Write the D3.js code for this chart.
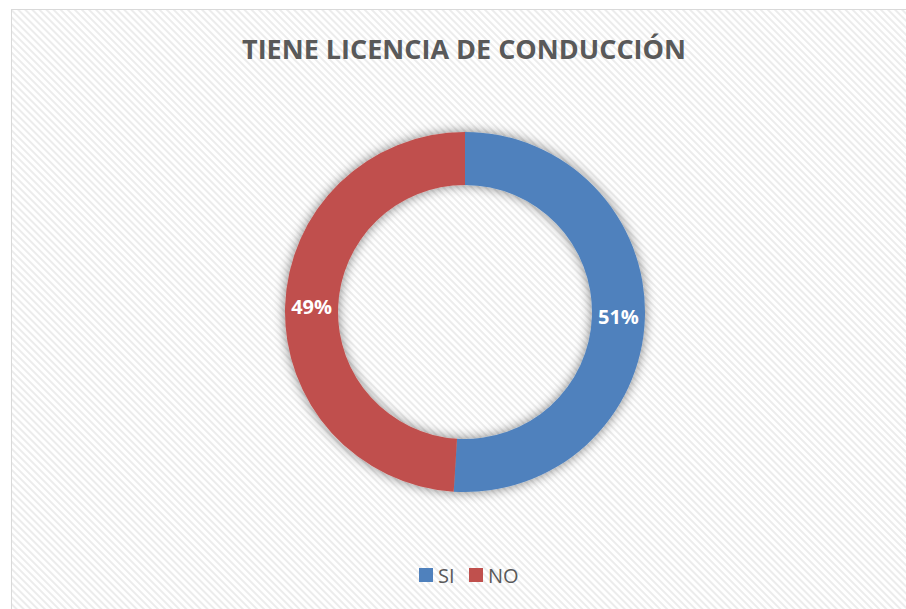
<!DOCTYPE html>
<html>
<head>
<meta charset="utf-8">
<script src="https://cdn.jsdelivr.net/npm/d3@7"></script>
<style>
  body { margin: 0; background: #fff; }
  svg { display: block; }
</style>
</head>
<body>
<div id="chart"></div>
<script>
var categories = ["SI", "NO"];
var values = [51, 49];
var colors = ["#4f81bd", "#c0504d"];
var title = "TIENE LICENCIA DE CONDUCCIÓN";

var svgWidth = 906;
var svgHeight = 609;

var svg = d3.select("#chart")
    .append("svg")
    .attr("width", svgWidth)
    .attr("height", svgHeight);

var defs = svg.append("defs");

// diagonal hatch background
var pat = defs.append("pattern")
    .attr("id", "hatch")
    .attr("patternUnits", "userSpaceOnUse")
    .attr("width", 5)
    .attr("height", 5)
    .attr("patternTransform", "rotate(-45)");
pat.append("rect").attr("width", 5).attr("height", 5).attr("fill", "#ffffff");
pat.append("rect").attr("width", 2).attr("height", 5).attr("fill", "#ececec");

var shadow = defs.append("filter")
    .attr("id", "glow")
    .attr("x", "-30%").attr("y", "-30%")
    .attr("width", "160%").attr("height", "160%");
shadow.append("feGaussianBlur")
    .attr("in", "SourceAlpha")
    .attr("stdDeviation", 6)
    .attr("result", "blur");
shadow.append("feComponentTransfer")
    .attr("in", "blur")
    .attr("result", "soft")
    .append("feFuncA").attr("type", "linear").attr("slope", 0.5);
var merge = shadow.append("feMerge");
merge.append("feMergeNode").attr("in", "soft");
merge.append("feMergeNode").attr("in", "SourceGraphic");

svg.append("rect")
    .attr("x", 11.5)
    .attr("y", 9.5)
    .attr("width", svgWidth)
    .attr("height", svgHeight)
    .attr("fill", "url(#hatch)")
    .attr("stroke", "#d9d9d9")
    .attr("stroke-width", 1);

svg.append("text")
    .attr("x", 464)
    .attr("y", 59)
    .attr("text-anchor", "middle")
    .attr("font-family", "Open Sans")
    .attr("font-weight", "bold")
    .attr("font-size", 27)
    .attr("fill", "#595959")
    .text(title);

var cx = 465, cy = 312;
var outerR = 180, innerR = 127;

var pie = d3.pie().sort(null).value(function(d) { return d; });
var arc = d3.arc().innerRadius(innerR).outerRadius(outerR);

var g = svg.append("g")
    .attr("transform", "translate(" + cx + "," + cy + ")");

var arcs = pie(values);

g.append("g")
    .attr("filter", "url(#glow)")
    .selectAll("path")
    .data(arcs)
    .enter()
    .append("path")
    .attr("d", arc)
    .attr("fill", function(d, i) { return colors[i]; });

g.selectAll("text.lbl")
    .data(arcs)
    .enter()
    .append("text")
    .attr("class", "lbl")
    .attr("transform", function(d) { return "translate(" + arc.centroid(d) + ")"; })
    .attr("dy", "0.35em")
    .attr("text-anchor", "middle")
    .attr("font-family", "Open Sans")
    .attr("font-weight", "bold")
    .attr("font-size", 20)
    .attr("fill", "#ffffff")
    .text(function(d) { return d.data + "%"; });

// legend
var legend = svg.append("g").attr("transform", "translate(419,568)");
var legX = [0, 50];
var items = legend.selectAll("g")
    .data(categories)
    .enter()
    .append("g")
    .attr("transform", function(d, i) { return "translate(" + legX[i] + ",0)"; });
items.append("rect")
    .attr("width", 14)
    .attr("height", 14)
    .attr("fill", function(d, i) { return colors[i]; });
items.append("text")
    .attr("x", 19)
    .attr("y", 14.5)
    .attr("font-family", "Open Sans")
    .attr("font-size", 20)
    .attr("fill", "#595959")
    .text(function(d) { return d; });
</script>
</body>
</html>
